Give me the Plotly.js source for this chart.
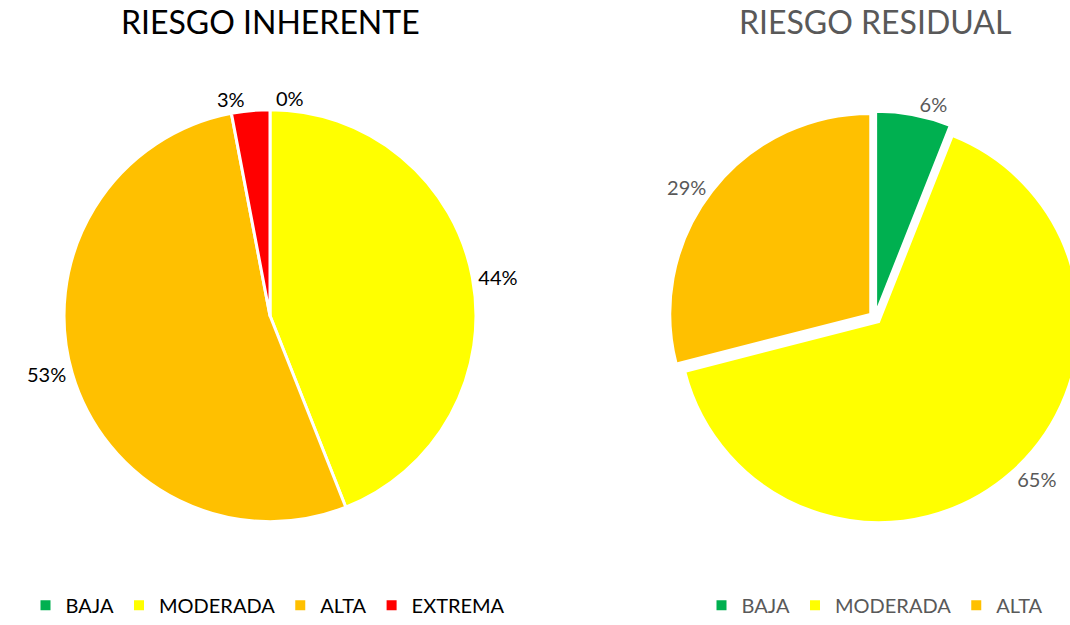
<!DOCTYPE html>
<html><head><meta charset="utf-8">
<script src="https://cdn.plot.ly/plotly-3.0.1.min.js"></script>
<style>html,body{margin:0;padding:0;overflow:hidden;background:#fff;width:1070px;height:625px}#chart{width:1150px;height:625px}</style>
</head><body><div id="chart"></div>
<script>
const labelsInh = ["BAJA", "MODERADA", "ALTA", "EXTREMA"];
const valuesInh = [0, 44, 53, 3];
const colorsInh = ["#00B050", "#FFFF00", "#FFC000", "#FF0000"];
const labelsRes = ["BAJA", "MODERADA", "ALTA"];
const valuesRes = [6, 65, 29];
const colorsRes = ["#00B050", "#FFFF00", "#FFC000"];
const titleInh = "RIESGO INHERENTE";
const titleRes = "RIESGO RESIDUAL";

const W = 1150, H = 625;
const FONT = "Lato, 'Open Sans', sans-serif";

// zero-width suffix keeps the second pie's legend entries distinct from the first pie's
const labelsResKeys = labelsRes.map(l => l + "\u200B");

const data = [
  {
    type: "pie", labels: labelsInh, values: valuesInh, sort: false, direction: "clockwise",
    marker: {colors: colorsInh, line: {color: "#ffffff", width: 3}},
    textinfo: "percent", textposition: "outside", texttemplate: "%{percent:.0%}",
    textfont: {family: FONT, size: 20, color: "#000000"},
    domain: {x: [0, 540/W], y: [0.149, 0.821]},
    legend: "legend", hoverinfo: "label+percent", showlegend: true
  },
  {
    type: "pie", labels: labelsResKeys, values: valuesRes, sort: false, direction: "clockwise",
    marker: {colors: colorsRes, line: {color: "#ffffff", width: 2}},
    pull: [0.03, 0.03, 0.03],
    textinfo: "percent", textposition: "outside", texttemplate: "%{percent:.0%}",
    textfont: {family: FONT, size: 20, color: "#595959"},
    domain: {x: [605/W, 1145/W], y: [0.146, 0.818]},
    legend: "legend2", hoverinfo: "label+percent", showlegend: true
  }
];

const layout = {
  width: W, height: H,
  margin: {l: 0, r: 0, t: 0, b: 0},
  paper_bgcolor: "#ffffff",
  font: {family: FONT},
  annotations: [
    {text: titleInh, x: 270/W, y: 1 - 22/H, xref: "paper", yref: "paper", showarrow: false,
     xanchor: "center", yanchor: "middle", font: {family: FONT, size: 32, color: "#000000"}},
    {text: titleRes, x: 875/W, y: 1 - 22/H, xref: "paper", yref: "paper", showarrow: false,
     xanchor: "center", yanchor: "middle", font: {family: FONT, size: 32, color: "#595959"}}
  ],
  legend: {orientation: "h", x: 268/W, xanchor: "center", y: 1 - 617/H, yanchor: "middle",
    font: {family: FONT, size: 20, color: "#000000"}, itemsizing: "constant", traceorder: "normal"},
  legend2: {orientation: "h", x: 875/W, xanchor: "center", y: 1 - 617/H, yanchor: "middle",
    font: {family: FONT, size: 20, color: "#595959"}, itemsizing: "constant", traceorder: "normal"}
};

Plotly.newPlot("chart", data, layout, {displayModeBar: false, staticPlot: true});
</script></body></html>
